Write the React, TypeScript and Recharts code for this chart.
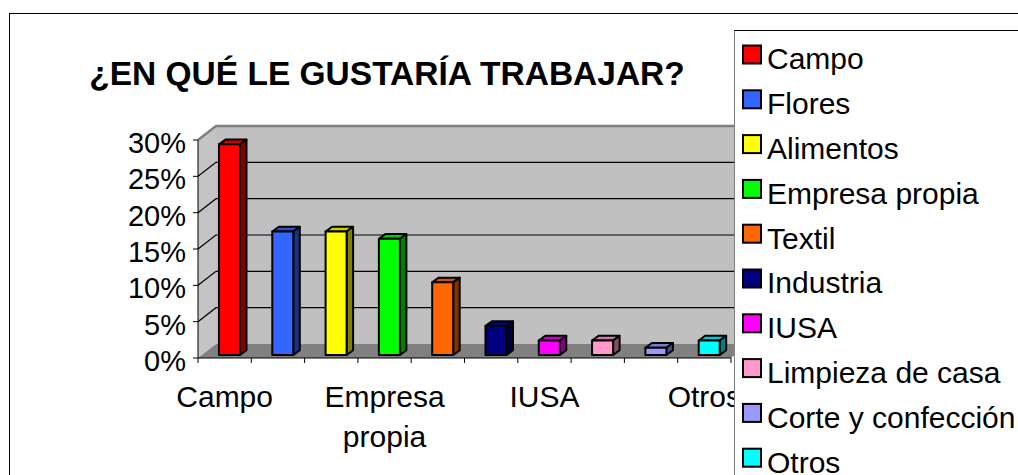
import React from 'react';
import { BarChart, Bar, XAxis, YAxis, Cell, Legend, ReferenceArea, ReferenceLine } from 'recharts';

const categories = [
  'Campo',
  'Flores',
  'Alimentos',
  'Empresa propia',
  'Textil',
  'Industria',
  'IUSA',
  'Limpieza de casa',
  'Corte y confección',
  'Otros',
];
const percentages = [29, 17, 17, 16, 10, 4, 2, 2, 1, 2];
const colors = ['#FF0000', '#3366FF', '#FFFF00', '#00FF00', '#FF6600', '#000080', '#FF00FF', '#FF99CC', '#9999FF', '#00FFFF'];
const yTicks = [0, 5, 10, 15, 20, 25, 30];
const gridValues = [5, 10, 15, 20, 25];
const title = '¿EN QUÉ LE GUSTARÍA TRABAJAR?';

const data = categories.map((name, i) => ({ name, value: percentages[i], color: colors[i] }));

const FONT = '"Liberation Sans", Arial, Helvetica, sans-serif';
const DEPTH_X = 18;
const DEPTH_Y = -14;
const BAR_OFF_X = 5;
const BAR_OFF_Y = -3;
const BAR_DX = 6.5;
const BAR_DY = -4.7;

function shade(hex: string, f: number) {
  const n = parseInt(hex.slice(1), 16);
  const r = Math.round(((n >> 16) & 255) * f);
  const g = Math.round(((n >> 8) & 255) * f);
  const b = Math.round((n & 255) * f);
  return `rgb(${r},${g},${b})`;
}

function Bar3D(props: any) {
  const { x, y, width, height, fill } = props;
  if (x == null || y == null || width == null || height == null) return null;
  const fx = x + BAR_OFF_X;
  const fy = y + BAR_OFF_Y;
  const w = width;
  const h = height;
  return (
    <g>
      <polygon
        points={`${fx},${fy} ${fx + BAR_DX},${fy + BAR_DY} ${fx + w + BAR_DX},${fy + BAR_DY} ${fx + w},${fy}`}
        fill={shade(fill, 0.8)}
        stroke="#000"
        strokeWidth={2}
        strokeLinejoin="round"
      />
      <polygon
        points={`${fx + w},${fy} ${fx + w + BAR_DX},${fy + BAR_DY} ${fx + w + BAR_DX},${fy + h + BAR_DY} ${fx + w},${fy + h}`}
        fill={shade(fill, 0.5)}
        stroke="#000"
        strokeWidth={2}
        strokeLinejoin="round"
      />
      <rect x={fx} y={fy} width={w} height={h} fill={fill} stroke="#000" strokeWidth={2} strokeLinejoin="round" />
    </g>
  );
}

function Walls(props: any) {
  const { x, y, width, height } = props;
  if (x == null || y == null) return null;
  const bx = x + DEPTH_X;
  const by = y + DEPTH_Y;
  const bottom = y + height;
  return (
    <g>
      <rect x={bx} y={by} width={width} height={height} fill="#c0c0c0" />
      <polygon points={`${x},${y} ${bx},${by} ${bx},${by + height} ${x},${bottom}`} fill="#c4c4c4" />
      <polygon
        points={`${x},${bottom} ${x + width},${bottom} ${bx + width},${by + height} ${bx},${by + height}`}
        fill="#808080"
      />
      <polyline
        points={`${x},${y} ${bx},${by} ${bx + width},${by}`}
        fill="none"
        stroke="#808080"
        strokeWidth={2.5}
      />
    </g>
  );
}

function GridLine3D(props: any) {
  const { x1, y1, x2 } = props;
  if (x1 == null || y1 == null) return null;
  const left = Math.min(x1, x2);
  const right = Math.max(x1, x2);
  return (
    <polyline
      points={`${left},${y1} ${left + DEPTH_X},${y1 + DEPTH_Y} ${right + DEPTH_X},${y1 + DEPTH_Y}`}
      fill="none"
      stroke="#000"
      strokeWidth={1.2}
    />
  );
}

function BoundaryTick(props: any) {
  const { x1, y1, y2 } = props;
  if (x1 == null) return null;
  const b = Math.max(y1, y2);
  return <line x1={x1} y1={b} x2={x1} y2={b + 5} stroke="#000" strokeWidth={1} />;
}

function XTick(props: any) {
  const { x, y, payload } = props;
  const label = String(payload.value);
  const lines = label.length > 10 ? label.split(' ') : [label];
  return (
    <text x={x} y={y + 41} textAnchor="middle" fontSize={30} fontFamily={FONT} fill="#000">
      {lines.map((l, i) => (
        <tspan key={i} x={x} dy={i === 0 ? 0 : 40}>
          {l}
        </tspan>
      ))}
    </text>
  );
}

function YTick(props: any) {
  const { x, y, payload } = props;
  return (
    <text x={x} y={y + 13} textAnchor="end" fontSize={29} fontFamily={FONT} fill="#000">
      {`${payload.value}%`}
    </text>
  );
}

function LegendBox() {
  return (
    <div
      style={{
        width: 284,
        height: 445,
        background: '#fff',
        borderTop: '1px solid #000',
        borderLeft: '1px solid #808080',
        boxSizing: 'border-box',
      }}
    >
      <svg width={283} height={444} style={{ display: 'block' }}>
        {categories.map((c, i) => (
          <g key={c}>
            <rect
              x={8}
              y={14.5 + 44.8 * i}
              width={18}
              height={18}
              fill={colors[i]}
              stroke="#000"
              strokeWidth={2}
            />
            <text x={32} y={38.3 + 44.8 * i} fontSize={30} fontFamily={FONT} fill="#000">
              {c}
            </text>
          </g>
        ))}
      </svg>
    </div>
  );
}

export default function App() {
  return (
    <div style={{ position: 'absolute', left: 0, top: 0, width: 1018, height: 475, background: '#fff', overflow: 'hidden' }}>
      <svg width={1018} height={475} style={{ position: 'absolute', left: 0, top: 0 }}>
        <rect x={9.5} y={13.5} width={2000} height={2000} fill="none" stroke="#000" strokeWidth={1} />
        <text x={387} y={85} textAnchor="middle" fontSize={33.5} fontWeight="bold" fontFamily={FONT} fill="#000">
          {title}
        </text>
      </svg>
      <div style={{ position: 'absolute', left: 0, top: 0 }}>
        <BarChart
          width={1018}
          height={475}
          data={data}
          margin={{ top: 140, right: 287, bottom: 7, left: 98 }}
          barCategoryGap="30%"
        >
          <ReferenceArea y1={0} y2={30} shape={Walls} zIndex={-95} ifOverflow="visible" />
          {gridValues.map((v) => (
            <ReferenceLine key={`g${v}`} y={v} shape={GridLine3D} zIndex={-90} ifOverflow="visible" />
          ))}
          <XAxis
            dataKey="name"
            interval={2}
            tickLine={false}
            axisLine={{ stroke: '#000', strokeWidth: 1 }}
            height={110}
            tick={XTick}
          />
          <YAxis
            domain={[0, 30]}
            ticks={yTicks}
            interval={0}
            width={100}
            tickSize={5}
            tickMargin={7}
            axisLine={{ stroke: '#000', strokeWidth: 1 }}
            tickLine={{ stroke: '#000', strokeWidth: 1 }}
            tick={YTick}
          />
          <Bar dataKey="value" isAnimationActive={false} shape={Bar3D}>
            {data.map((d) => (
              <Cell key={d.name} fill={d.color} />
            ))}
          </Bar>
          {categories.map((c) => (
            <ReferenceLine key={`t${c}`} x={c} position="start" shape={BoundaryTick} ifOverflow="visible" />
          ))}
          <ReferenceLine x={categories[categories.length - 1]} position="end" shape={BoundaryTick} ifOverflow="visible" />
          <Legend
            layout="vertical"
            align="center"
            verticalAlign="middle"
            wrapperStyle={{ left: 734, top: 30, width: 284, height: 445 }}
            content={LegendBox}
          />
        </BarChart>
      </div>
    </div>
  );
}
